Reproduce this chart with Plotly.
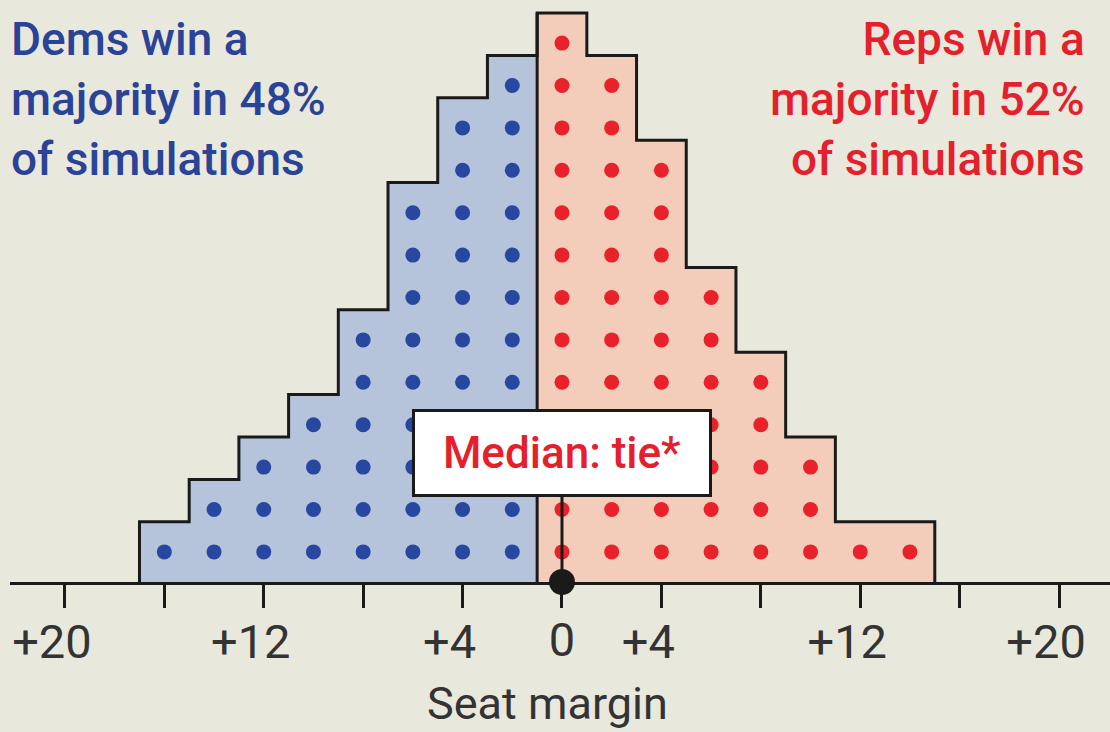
import plotly.graph_objects as go

# ---- data ----
margins = [-16, -14, -12, -10, -8, -6, -4, -2, 0, 2, 4, 6, 8, 10, 12, 14]
counts = [1, 2, 3, 4, 6, 9, 11, 12, 13, 12, 10, 7, 5, 3, 1, 1]
party = ["D"] * 8 + ["R"] * 8
tick_vals = [-20, -16, -12, -8, -4, 0, 4, 8, 12, 16, 20]
tick_text = ["+20", "", "+12", "", "+4", "", "+4", "", "+12", "", "+20"]
median_margin = 0
dem_share = 48
rep_share = 52

# ---- style ----
BG = "#e9e8dc"
BLUE_FILL = "#b5c4da"
RED_FILL = "#f3cdb9"
BLUE_DOT = "#2747a0"
RED_DOT = "#e8212b"
BLUE_TXT = "#2a4396"
RED_TXT = "#e3202b"
INK = "#1a1a1a"
FONT = "Roboto"
PAD = 0.42      # bar top above top dot row
DOFF = 0.29     # dot offset below row index
BW = 2          # bar width (seat units)

fig = go.Figure()

for p, fill, dot in (("D", BLUE_FILL, BLUE_DOT), ("R", RED_FILL, RED_DOT)):
    xs = [m for m, q in zip(margins, party) if q == p]
    cs = [c for c, q in zip(counts, party) if q == p]
    fig.add_trace(go.Bar(x=xs, y=[c + PAD for c in cs], width=BW * 1.02, base=0,
                         marker=dict(color=fill, line=dict(width=0)),
                         hoverinfo="skip", showlegend=False))
    dx, dy = [], []
    for m, c in zip(xs, cs):
        for k in range(1, c + 1):
            dx.append(m)
            dy.append(k - DOFF)
    fig.add_trace(go.Scatter(x=dx, y=dy, mode="markers",
                             marker=dict(color=dot, size=15),
                             hoverinfo="skip", showlegend=False))

# step outline
ox = [margins[0] - BW / 2] + [m + BW / 2 for m in margins] + [margins[-1] + BW / 2]
oy = [0] + [c + PAD for c in counts] + [0]
fig.add_trace(go.Scatter(x=ox, y=oy, mode="lines", line=dict(shape="vh", color=INK, width=3),
                         hoverinfo="skip", showlegend=False, cliponaxis=False))
# divider between sides
split = (margins[7] + margins[8]) / 2
fig.add_trace(go.Scatter(x=[split, split], y=[0, max(counts[7], counts[8]) + PAD], mode="lines",
                         line=dict(color=INK, width=3), hoverinfo="skip", showlegend=False))

# median stem + dot
BOX_Y = 3.04
fig.add_trace(go.Scatter(x=[median_margin, median_margin], y=[0, BOX_Y], mode="lines",
                         line=dict(color=INK, width=3), hoverinfo="skip", showlegend=False))
fig.add_trace(go.Scatter(x=[median_margin], y=[0], mode="markers", xaxis="x2",
                         marker=dict(color=INK, size=26), cliponaxis=False,
                         hoverinfo="skip", showlegend=False))

XR = [-22.21, 22.05]
YR = [0, 582 / 42.4]

fig.add_annotation(x=median_margin, y=BOX_Y, xref="x", yref="y", text="Median: tie*",
                   showarrow=False, font=dict(family=FONT, size=44, color=RED_TXT, weight=500),
                   bgcolor="white", bordercolor=INK, borderwidth=3, borderpad=0,
                   width=294, height=82)

fig.add_annotation(x=-0.001, y=1, xref="paper", yref="paper", xanchor="left", yanchor="top",
                   text=f"Dems win a<br>majority in {dem_share}%<br>of simulations",
                   align="left", showarrow=False, yshift=-10,
                   font=dict(family=FONT, size=46, color=BLUE_TXT, weight=500))
fig.add_annotation(x=0.979, y=1, xref="paper", yref="paper", xanchor="right", yanchor="top",
                   text=f"Reps win a<br>majority in {rep_share}%<br>of simulations",
                   align="right", showarrow=False, yshift=-10,
                   font=dict(family=FONT, size=46, color=RED_TXT, weight=500))
fig.add_annotation(x=(547 - 10) / 1100, y=(582 - 703) / 582, xref="paper", yref="paper",
                   xanchor="center", yanchor="middle", text="Seat margin", showarrow=False,
                   font=dict(family=FONT, size=45, color="#333333"))

fig.update_layout(
    width=1110, height=732,
    margin=dict(l=10, r=0, t=0, b=150),
    paper_bgcolor=BG, plot_bgcolor=BG,
    barmode="overlay", showlegend=False,
    xaxis=dict(range=XR, tickvals=tick_vals, ticktext=tick_text, ticks="outside",
               ticklen=23, tickwidth=3, tickcolor=INK, showline=True, linewidth=3,
               linecolor=INK, showgrid=False, zeroline=False, ticklabelshift=-13,
               ticklabelstandoff=-6,
               tickfont=dict(family=FONT, size=47, color="#333333")),
    xaxis2=dict(range=XR, overlaying="x", anchor="y", side="bottom", tickvals=[0],
                ticktext=["0"], ticks="outside", ticklen=23, tickwidth=3,
                tickcolor="rgba(0,0,0,0)", showline=False, showgrid=False, zeroline=False,
                ticklabelstandoff=-6,
                tickfont=dict(family=FONT, size=47, color="#333333")),
    yaxis=dict(range=YR, visible=False, showgrid=False, zeroline=False),
)

fig.write_html("out.html", config={"displayModeBar": False},
               post_script="document.body.style.margin='0';")
